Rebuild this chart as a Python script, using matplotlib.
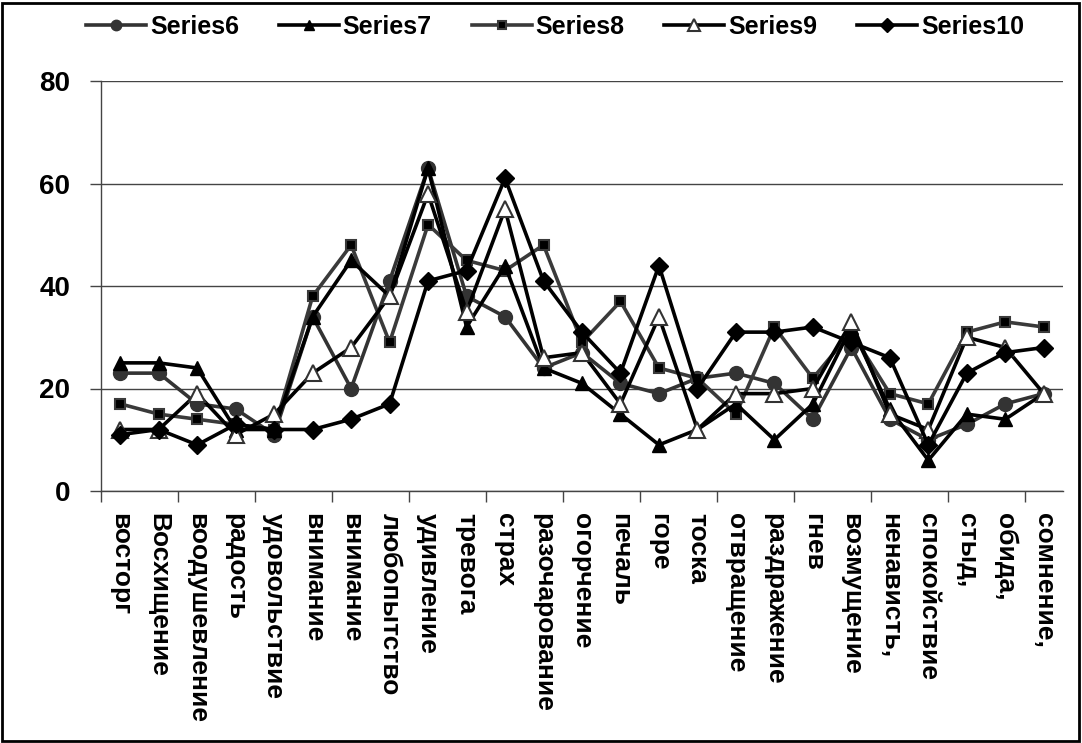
import numpy as np
import matplotlib.pyplot as plt
from matplotlib.patches import Rectangle

plt.rcParams['font.family'] = ['Liberation Sans', 'DejaVu Sans']

emotions = ['восторг', 'Восхищение', 'воодушевление', 'радость', 'удовольствие',
            'внимание', 'внимание', 'любопытство', 'удивление', 'тревога', 'страх',
            'разочарование', 'огорчение', 'печаль', 'горе', 'тоска', 'отвращение',
            'раздражение', 'гнев', 'возмущение', 'ненависть,', 'спокойствие',
            'стыд,', 'обида,', 'сомнение,']

series6 = [23, 23, 17, 16, 11, 34, 20, 41, 63, 38, 34, 24, 27, 21, 19, 22, 23, 21, 14, 28, 14, 10, 13, 17, 19]
series7 = [25, 25, 24, 12, 12, 34, 45, 38, 63, 32, 44, 24, 21, 15, 9, 12, 17, 10, 17, 32, 16, 6, 15, 14, 19]
series8 = [17, 15, 14, 13, 12, 38, 48, 29, 52, 45, 43, 48, 29, 37, 24, 22, 15, 32, 22, 31, 19, 17, 31, 33, 32]
series9 = [12, 12, 19, 11, 15, 23, 28, 38, 58, 35, 55, 26, 27, 17, 34, 12, 19, 19, 20, 33, 15, 12, 30, 28, 19]
series10 = [11, 12, 9, 13, 12, 12, 14, 17, 41, 43, 61, 41, 31, 23, 44, 20, 31, 31, 32, 29, 26, 9, 23, 27, 28]

x = np.arange(len(emotions))

fig = plt.figure(figsize=(10.82, 7.43), dpi=100)
ax = fig.add_axes([101 / 1082, 1 - 491 / 743, 962 / 1082, 410 / 743])

lw = 2.6
ax.plot(x, series6, color='#333333', lw=lw, marker='o', ms=10,
        mfc='#333333', mec='#333333', label='Series6', zorder=3)
ax.plot(x, series7, color='black', lw=lw, marker='^', ms=10,
        mfc='black', mec='black', label='Series7', zorder=4)
ax.plot(x, series8, color='#3a3a3a', lw=lw, marker='s', ms=7,
        mfc='black', mec='#3a3a3a', mew=1.5, label='Series8', zorder=3)
ax.plot(x, series9, color='black', lw=lw, marker='^', ms=11,
        mfc='white', mec='#333333', mew=1.5, label='Series9', zorder=4)
ax.plot(x, series10, color='black', lw=lw, marker='D', ms=9,
        mfc='black', mec='black', label='Series10', zorder=5)

ax.set_xlim(-0.5, len(emotions) - 0.5)
ax.set_ylim(0, 80)
ax.set_yticks([0, 20, 40, 60, 80])
ax.yaxis.grid(True, color='#444444', lw=1)
ax.set_axisbelow(True)
ax.tick_params(axis='y', length=8, width=1, color='#444444', labelsize=20, pad=14)
for lab in ax.get_yticklabels():
    lab.set_fontweight('bold')

ax.set_xticks(x)
ax.set_xticklabels(emotions, rotation=270, fontsize=19, fontweight='bold',
                   va='top', ha='center')
ax.set_xticks(np.arange(-0.5, len(emotions), 2), minor=True)
ax.tick_params(axis='x', which='major', length=0, pad=16)
ax.tick_params(axis='x', which='minor', length=8, width=1, color='#444444')

for side in ['top', 'right']:
    ax.spines[side].set_visible(False)
for side in ['left', 'bottom']:
    ax.spines[side].set_color('#444444')
    ax.spines[side].set_linewidth(1)

leg = fig.legend(loc='center', bbox_to_anchor=(555 / 1082, 1 - 27 / 743), ncol=5,
                 frameon=False, prop={'weight': 'bold', 'size': 18},
                 handlelength=2.4, columnspacing=1.6, handletextpad=0.15, markerscale=0.75)

fig.patches.append(Rectangle((2 / 1082, 2 / 743), 1077 / 1082, 738 / 743,
                             transform=fig.transFigure, fill=False,
                             edgecolor='black', lw=2))

fig.savefig('out.png', dpi=100)
